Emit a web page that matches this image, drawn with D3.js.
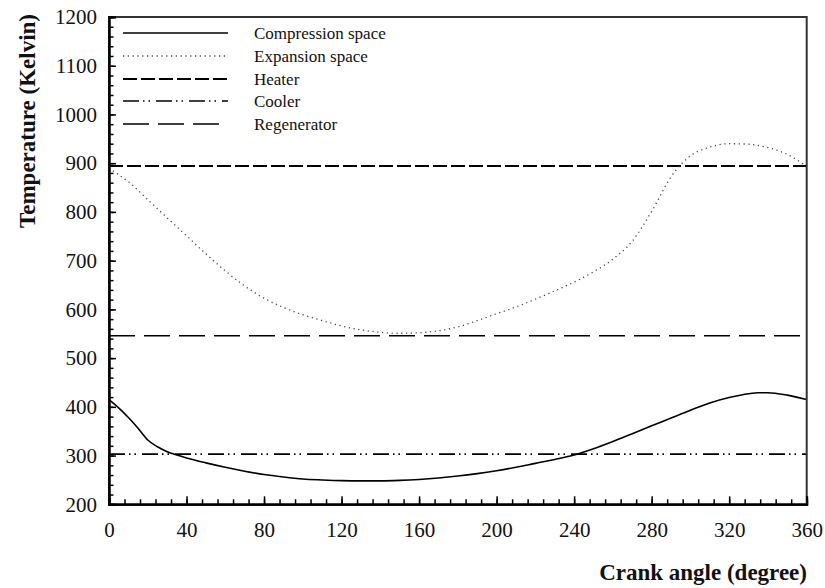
<!DOCTYPE html>
<html>
<head>
<meta charset="utf-8">
<script src="https://cdn.jsdelivr.net/npm/d3@7"></script>
<style>
  html, body { margin: 0; padding: 0; background: #fff; }
  svg { display: block; }
  text { font-family: "Liberation Serif", "Times New Roman", serif; fill: #111; }
</style>
</head>
<body>
<svg id="chart" width="825" height="588"></svg>
<script>
// Gas temperatures in the engine over one crank revolution
const angleCompression = [0, 5, 10, 15, 20, 25, 30, 35, 40, 50, 60, 70, 80, 90, 100, 110, 120, 130, 140, 150, 160, 170, 180, 190, 200, 210, 220, 230, 240, 250, 260, 270, 280, 290, 300, 310, 320, 330, 335, 340, 350, 360];
const tempCompression  = [415, 398, 378, 356, 332, 318, 308, 301, 295, 285, 276, 268, 261, 256, 252, 250, 248.5, 248, 248, 249, 251, 254, 258, 263, 269, 276, 284, 292, 301, 314, 329, 345, 361, 377, 393, 408, 419, 427, 429, 429, 424, 415];

const angleExpansion = [0, 5, 10, 20, 30, 40, 50, 60, 70, 80, 90, 100, 110, 120, 130, 140, 150, 160, 170, 180, 190, 200, 210, 220, 230, 240, 250, 260, 270, 280, 290, 300, 310, 320, 330, 340, 350, 360];
const tempExpansion  = [890, 876, 862, 825, 788, 751, 714, 679, 648, 623, 604, 589, 577, 566, 558, 553, 551, 552, 556, 564, 577, 591, 605, 621, 638, 656, 677, 703, 740, 801, 872, 915, 933, 940, 939, 932, 918, 893];

const tempHeater = 894;
const tempRegenerator = 546;
const tempCooler = 303;

const seriesNames = ["Compression space", "Expansion space", "Heater", "Cooler", "Regenerator"];

const xTicks = [0, 40, 80, 120, 160, 200, 240, 280, 320, 360];
const yTicks = [200, 300, 400, 500, 600, 700, 800, 900, 1000, 1100, 1200];

const serif = "'Liberation Serif', 'Times New Roman', serif";
const svg = d3.select("#chart");
const plotLeft = 109, plotRight = 806.7, plotTop = 17, plotBottom = 504.3;

const x = d3.scaleLinear().domain([0, 360]).range([plotLeft, plotRight]);
const y = d3.scaleLinear().domain([200, 1200]).range([plotBottom, plotTop]);

// line styles
const styles = {
  "Compression space": { dash: null, width: 1.6, color: "#000" },
  "Expansion space":   { dash: "1.2,3.6", width: 1.3, color: "#444" },
  "Heater":            { dash: "14,4", width: 2, color: "#000" },
  "Cooler":            { dash: "16,4,1.5,4,1.5,6", width: 1.6, color: "#000" },
  "Regenerator":       { dash: "26,9", width: 1.6, color: "#000" }
};

const line = d3.line().x(d => x(d[0])).y(d => y(d[1])).curve(d3.curveMonotoneX);

function drawSeries(name, pts) {
  const s = styles[name];
  svg.append("path")
    .datum(pts)
    .attr("d", line)
    .attr("fill", "none")
    .attr("stroke", s.color)
    .attr("stroke-width", s.width)
    .attr("stroke-dasharray", s.dash);
}

drawSeries("Heater", [[0, tempHeater], [360, tempHeater]]);
drawSeries("Regenerator", [[0, tempRegenerator], [360, tempRegenerator]]);
drawSeries("Cooler", [[0, tempCooler], [360, tempCooler]]);
drawSeries("Expansion space", angleExpansion.map((a, i) => [a, tempExpansion[i]]));
drawSeries("Compression space", angleCompression.map((a, i) => [a, tempCompression[i]]));

// frame
svg.append("rect")
  .attr("x", plotLeft).attr("y", plotTop)
  .attr("width", plotRight - plotLeft).attr("height", plotBottom - plotTop)
  .attr("fill", "none").attr("stroke", "#333").attr("stroke-width", 2);

// axes with inward ticks
const xMinor = d3.range(0, 361, 8);
const yMinor = d3.range(200, 1201, 20);

const gxMinor = svg.append("g").attr("transform", `translate(0,${plotBottom})`)
  .call(d3.axisBottom(x).tickValues(xMinor).tickSize(-5).tickFormat(""));
const gx = svg.append("g").attr("transform", `translate(0,${plotBottom})`)
  .call(d3.axisBottom(x).tickValues(xTicks).tickSize(-8).tickPadding(18).tickFormat(d3.format("d")));
const gyMinor = svg.append("g").attr("transform", `translate(${plotLeft},0)`)
  .call(d3.axisLeft(y).tickValues(yMinor).tickSize(-4.5).tickFormat(""));
const gy = svg.append("g").attr("transform", `translate(${plotLeft},0)`)
  .call(d3.axisLeft(y).tickValues(yTicks).tickSize(-7).tickPadding(12).tickFormat(d3.format("d")));

[gxMinor, gx, gyMinor, gy].forEach(g => {
  g.attr("font-family", serif);
  g.select(".domain").attr("stroke", "#000").attr("stroke-width", 2);
  g.selectAll(".tick line").attr("stroke", "#000").attr("stroke-width", 1.5);
  g.selectAll(".tick text").attr("font-size", 21).style("font-family", serif).attr("fill", "#111");
});

// axis titles
svg.append("text")
  .attr("transform", "translate(35,121) rotate(-90)")
  .attr("text-anchor", "middle")
  .attr("font-size", 23)
  .attr("font-weight", "bold")
  .text("Temperature (Kelvin)");

svg.append("text")
  .attr("x", 807).attr("y", 580)
  .attr("text-anchor", "end")
  .attr("font-size", 23)
  .attr("font-weight", "bold")
  .text("Crank angle (degree)");

// legend
const legendRowY = [33, 56, 79, 101, 124];
seriesNames.forEach((name, i) => {
  const s = styles[name];
  const yy = legendRowY[i];
  svg.append("line")
    .attr("x1", 123).attr("x2", 228).attr("y1", yy).attr("y2", yy)
    .attr("stroke", s.color).attr("stroke-width", s.width)
    .attr("stroke-dasharray", s.dash);
  svg.append("text")
    .attr("x", 254).attr("y", yy).attr("dy", "0.33em")
    .attr("font-size", 17)
    .text(name);
});
</script>
</body>
</html>
